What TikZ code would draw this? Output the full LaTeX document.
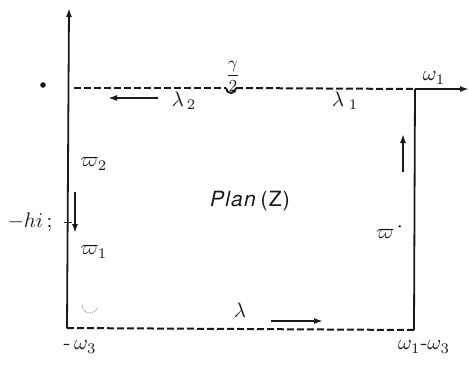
\documentclass[tikz,border=0pt]{standalone}
\usepackage{amsmath,amssymb}
\usepackage{fontspec}
\setsansfont{TeX Gyre Heros}
\usepackage{tikz}
\usetikzlibrary{arrows.meta}
\usepackage{xcolor}
\definecolor{inkgray}{RGB}{25, 25, 25}

\begin{document}
\begin{tikzpicture}[x=1pt, y=-1pt, >={Latex[length=9pt,width=6pt]}, inkgray,
    path/.style={line width=2pt, dash pattern=on 7pt off 3pt},
    side/.style={line width=1.8pt},
    dirarrow/.style={->, line width=1.6pt},
    lab/.style={scale=2.1, inner sep=0.5pt}]
    \useasboundingbox (0,0) rectangle (469,365);
    % corners of the rectangle
    \coordinate (nw) at (68,88);
    \coordinate (sw) at (67,328);
    \coordinate (se) at (414,330);
    \coordinate (ne) at (415,89);
    \coordinate (top) at (69,8);
    \coordinate (east) at (469,89);
    \coordinate (nl) at (226,88);
    \coordinate (nr) at (236,88);
    % axes and sides
    \draw[->, side] (sw) -- (top);
    \draw[side] (ne) -- (se);
    \draw[->, side] (ne) -- (east);
    \draw[path] (sw) -- (se);
    \draw[path] (nw) ++(6,0) -- (nl);
    \draw[path, dash pattern=] (nl) arc (180:0:5);
    \draw[path] (nr) -- (ne);
    % small marks
    \fill (43,85) circle (2.8);
    \draw[line width=1pt] (64,222) -- (72,222);
    \draw[gray, densely dotted, line width=0.8pt] (82,305) arc (180:20:8);
    % arrows along the contour
    \coordinate (a2s) at (158,98);
    \coordinate (a2e) at (108,98);
    \draw[dirarrow] (a2s) -- (a2e);
    \coordinate (ads) at (75,192);
    \coordinate (ade) at (75,233);
    \draw[dirarrow] (ads) -- (ade);
    \coordinate (aus) at (403,172);
    \coordinate (aue) at (403,134);
    \draw[dirarrow] (aus) -- (aue);
    \coordinate (abs) at (271,321);
    \coordinate (abe) at (323,321);
    \draw[dirarrow] (abs) -- (abe);
    % labels
    \node[lab, scale=0.8] (gam) at (233,76) {$\dfrac{\gamma}{2}$};
    \node[lab] (lam2) at (184,101) {$\lambda_{\,2}$};
    \node[lab] (lam1) at (345,101) {$\lambda_{\;1}$};
    \node[lab] (om1) at (434,78) {$\omega_1$};
    \node[lab] (vp2) at (94,164) {$\varpi_2$};
    \node[lab] (vp1) at (94,252) {$\varpi_1$};
    \node[lab, anchor=east] (hi) at (54,222) {$-hi\,$;};
    \node[scale=2.1, font=\sffamily\addfontfeature{LetterSpace=6}] (plan) at (250,201) {\textit{Plan}\,(Z)};
    \node[lab] (vpp) at (390,231) {$\varpi^{\,\boldsymbol{\cdot}}$};
    \node[lab] (lam) at (240,310) {$\lambda$};
    \node[lab] (om3) at (80,347) {$\text{-}\,\omega_3$};
    \node[lab] (om13) at (424,347) {$\omega_1\text{-}\omega_3$};
\end{tikzpicture}
\end{document}
